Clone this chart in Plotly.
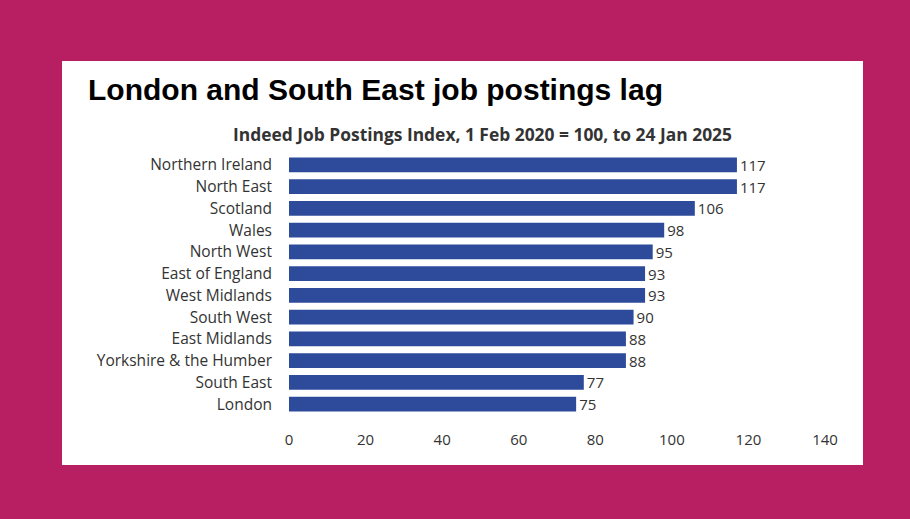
import plotly.graph_objects as go

regions = ["Northern Ireland", "North East", "Scotland", "Wales", "North West",
           "East of England", "West Midlands", "South West", "East Midlands",
           "Yorkshire & the Humber", "South East", "London"]
index_values = [117, 117, 106, 98, 95, 93, 93, 90, 88, 88, 77, 75]
x_ticks = [0, 20, 40, 60, 80, 100, 120, 140]

BAR = "#2D4B9A"
FRAME = "#B81E62"
TEXT = "#333333"

fig = go.Figure(go.Bar(
    x=index_values,
    y=regions,
    orientation="h",
    marker=dict(color=BAR, line=dict(width=0)),
    text=[str(v) for v in index_values],
    textposition="outside",
    constraintext="none",
    textfont=dict(family="Open Sans", size=15, color=TEXT),
    outsidetextfont=dict(family="Open Sans", size=15, color=TEXT),
    cliponaxis=False,
    width=0.68,
))

fig.update_layout(
    width=910, height=519,
    paper_bgcolor=FRAME,
    plot_bgcolor="white",
    margin=dict(l=289, r=85, t=154, b=104),
    showlegend=False,
    uniformtext=dict(mode=False),
    xaxis=dict(range=[0, 140], tickvals=x_ticks, showgrid=False, zeroline=False,
               showline=False, ticks="", ticklabelstandoff=14,
               tickfont=dict(family="Open Sans", size=15, color=TEXT)),
    yaxis=dict(categoryorder="array", categoryarray=regions[::-1],
               showgrid=False, zeroline=False, showline=False, ticks="",
               ticklabelstandoff=16,
               tickfont=dict(family="Open Sans", size=15.5, color=TEXT)),
    shapes=[dict(type="rect", xref="paper", yref="paper", layer="below",
                 x0=-0.4235, x1=1.0709, y0=-0.1916, y1=1.356,
                 fillcolor="white", line=dict(width=0))],
    annotations=[
        dict(text="<b>London and South East job postings lag</b>",
             xref="paper", yref="paper", x=-0.3788, y=1.175,
             xanchor="left", yanchor="bottom", showarrow=False,
             font=dict(family="Liberation Sans", size=30, color="black")),
        dict(text="<b>Indeed Job Postings Index, 1 Feb 2020 = 100, to 24 Jan 2025</b>",
             xref="paper", yref="paper", x=0.3619, y=1.077,
             xanchor="center", yanchor="middle", showarrow=False,
             font=dict(family="Open Sans", size=17.4, color=TEXT)),
    ],
)

fig.write_html("out.html")
